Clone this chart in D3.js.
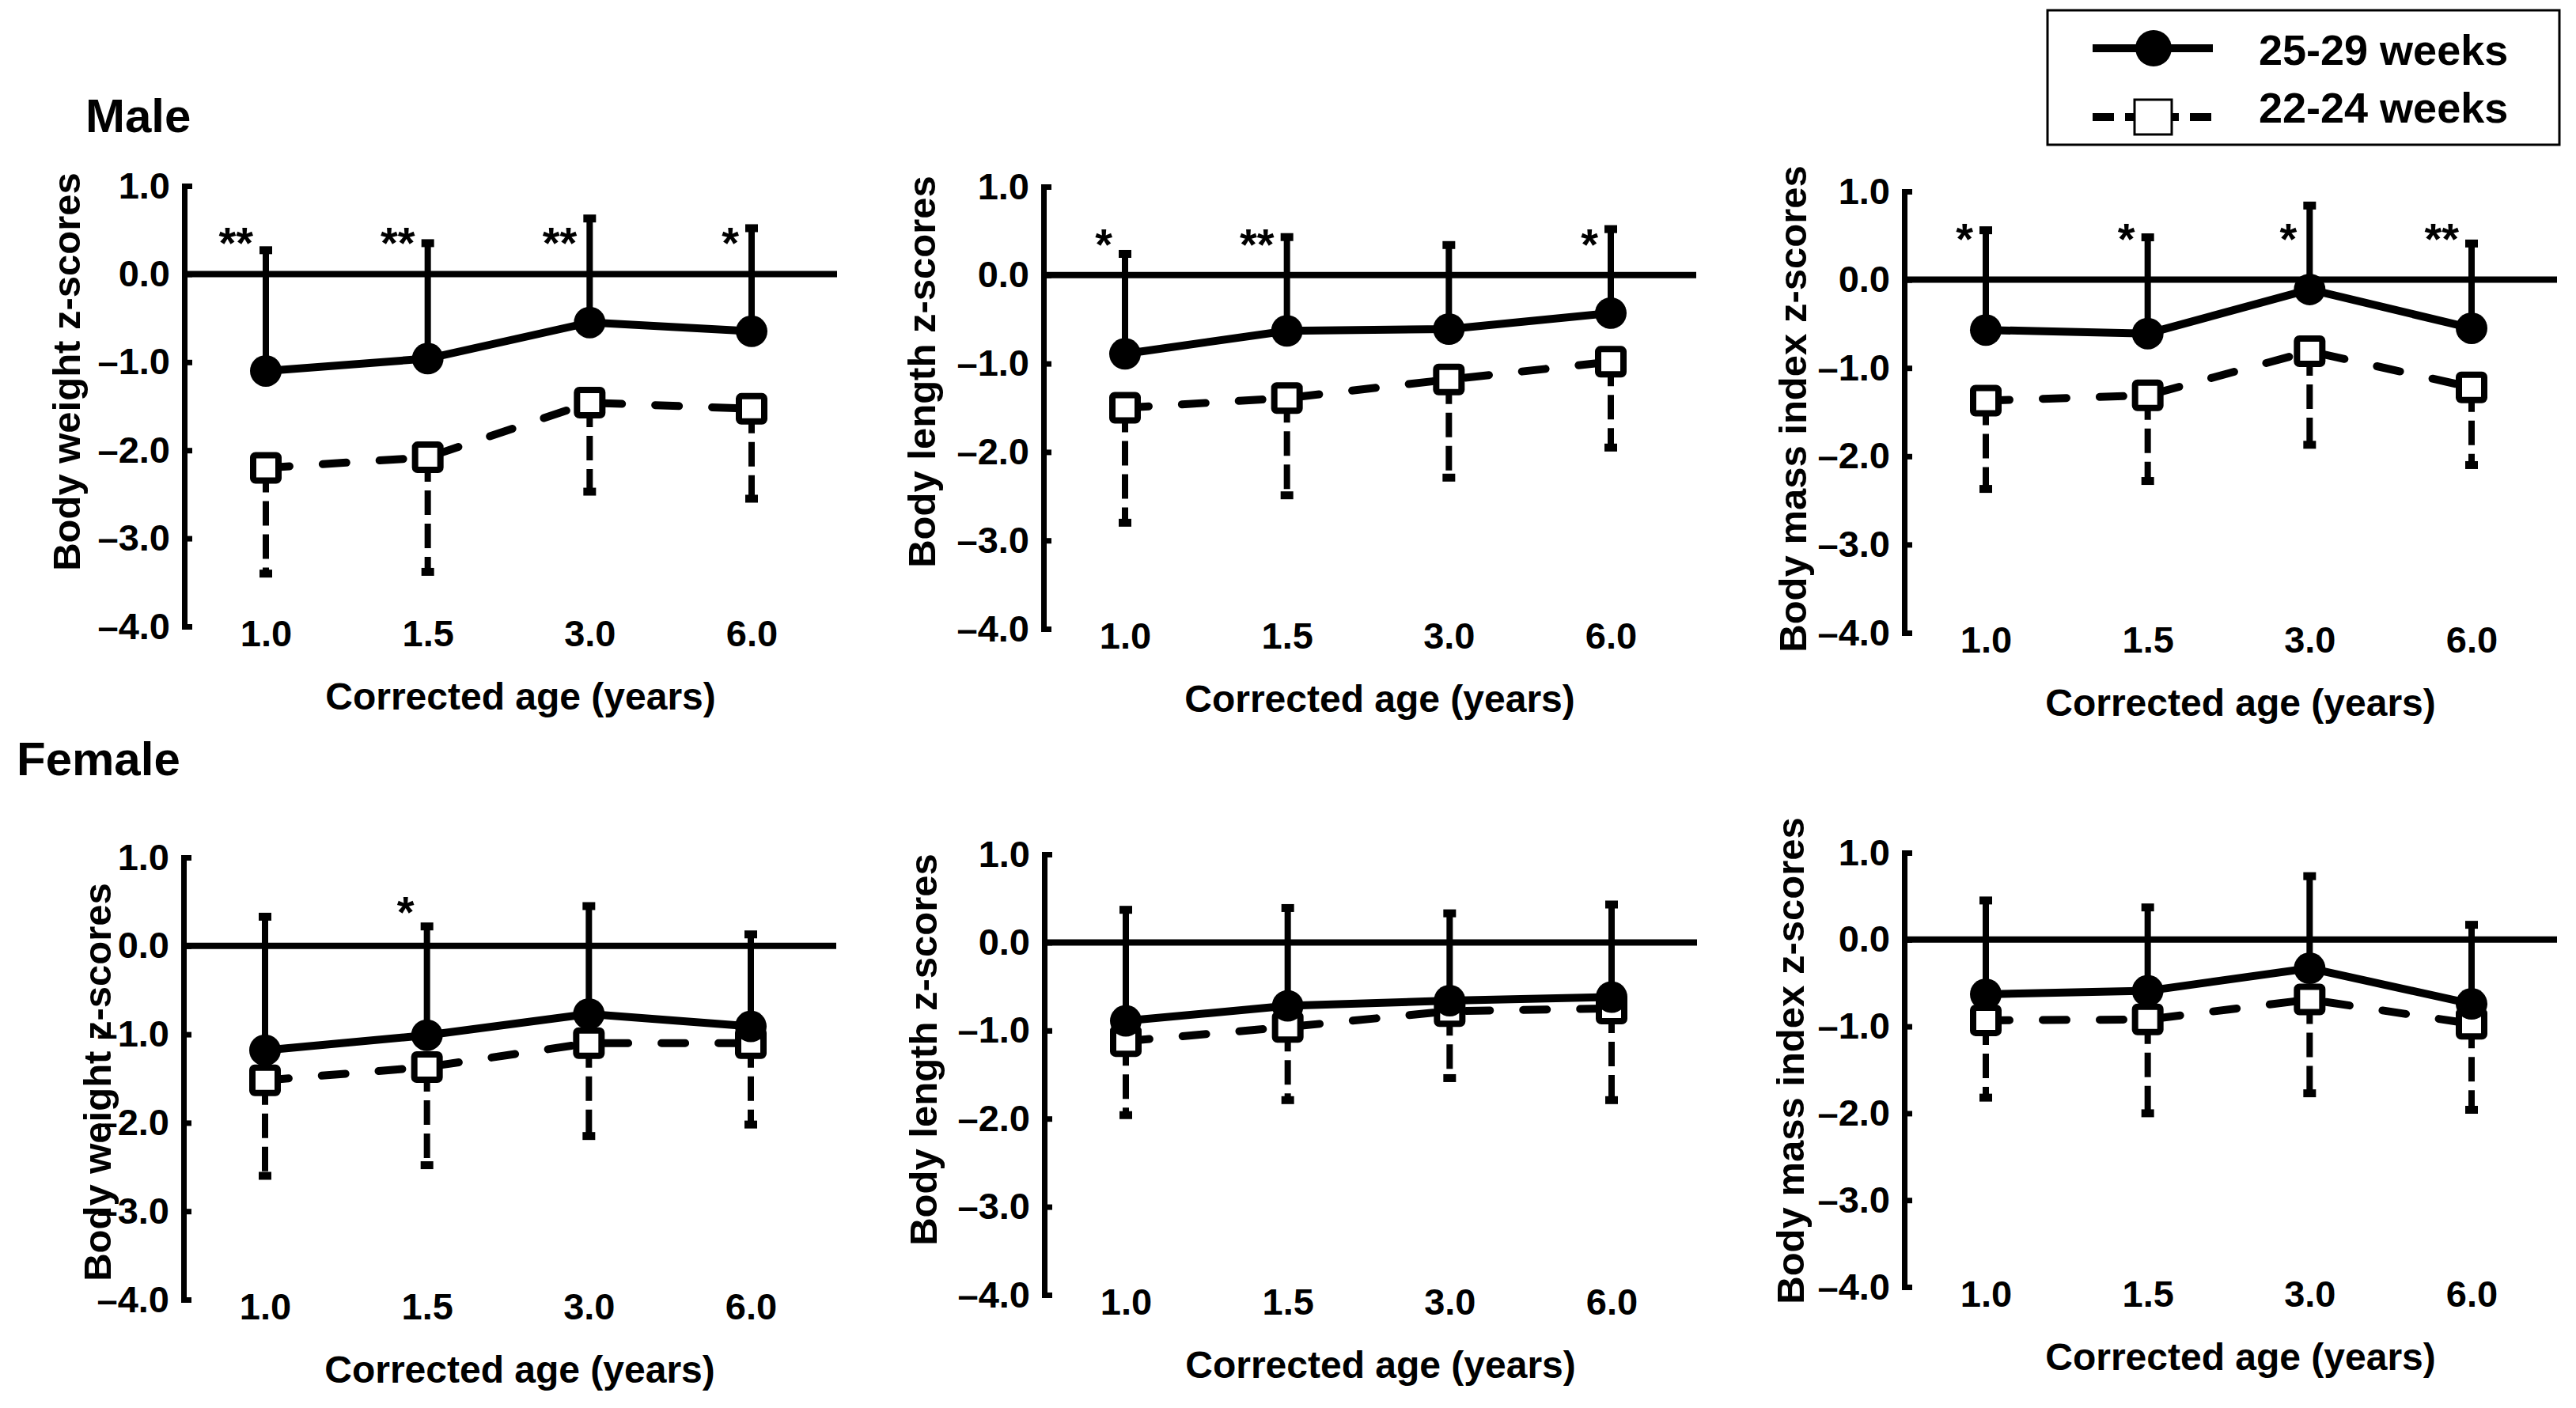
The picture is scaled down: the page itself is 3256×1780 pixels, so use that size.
<!DOCTYPE html>
<html>
<head>
<meta charset="utf-8">
<script src="https://cdn.jsdelivr.net/npm/d3@7"></script>
<style>
    body { margin: 0; background: #fff; }
    text { font-family: "Liberation Sans", Arial, sans-serif; font-weight: bold; fill: #000; }
</style>
</head>
<body>
<svg id="chart" width="3256" height="1780"></svg>
<script>
// Corrected age groups (x categories) and y ticks
const ages = ["1.0", "1.5", "3.0", "6.0"];
const yTickValues = [1, 0, -1, -2, -3, -4];
const seriesNames = ["25-29 weeks", "22-24 weeks"];
const measureTitles = ["Body weight z-scores", "Body length z-scores", "Body mass index z-scores"];
const sexLabels = ["Male", "Female"];

// 25-29 weeks: mean and top of SD bar, 22-24 weeks: mean and bottom of SD bar
const maleWeight2529 = [-1.10, -0.96, -0.55, -0.65];
const maleWeight2529Top = [0.27, 0.35, 0.63, 0.52];
const maleWeight2224 = [-2.20, -2.08, -1.46, -1.53];
const maleWeight2224Bottom = [-3.40, -3.38, -2.47, -2.55];
const maleWeightStars = ["**", "**", "**", "*"];

const maleLength2529 = [-0.89, -0.63, -0.61, -0.43];
const maleLength2529Top = [0.24, 0.43, 0.34, 0.52];
const maleLength2224 = [-1.50, -1.39, -1.18, -0.98];
const maleLength2224Bottom = [-2.80, -2.49, -2.29, -1.95];
const maleLengthStars = ["*", "**", "", "*"];

const maleBmi2529 = [-0.57, -0.61, -0.11, -0.55];
const maleBmi2529Top = [0.56, 0.48, 0.84, 0.41];
const maleBmi2224 = [-1.37, -1.31, -0.81, -1.22];
const maleBmi2224Bottom = [-2.37, -2.28, -1.87, -2.10];
const maleBmiStars = ["*", "*", "*", "**"];

const femaleWeight2529 = [-1.18, -1.01, -0.77, -0.91];
const femaleWeight2529Top = [0.33, 0.22, 0.45, 0.13];
const femaleWeight2224 = [-1.52, -1.37, -1.10, -1.10];
const femaleWeight2224Bottom = [-2.60, -2.48, -2.15, -2.02];
const femaleWeightStars = ["", "*", "", ""];

const femaleLength2529 = [-0.89, -0.72, -0.66, -0.62];
const femaleLength2529Top = [0.37, 0.39, 0.33, 0.43];
const femaleLength2224 = [-1.12, -0.96, -0.78, -0.75];
const femaleLength2224Bottom = [-1.96, -1.79, -1.54, -1.79];
const femaleLengthStars = ["", "", "", ""];

const femaleBmi2529 = [-0.63, -0.59, -0.33, -0.74];
const femaleBmi2529Top = [0.45, 0.37, 0.73, 0.17];
const femaleBmi2224 = [-0.93, -0.92, -0.69, -0.97];
const femaleBmi2224Bottom = [-1.82, -2.00, -1.77, -1.96];
const femaleBmiStars = ["", "", "", ""];

const panels = [
    { title: measureTitles[0], a: maleWeight2529, aTop: maleWeight2529Top, b: maleWeight2224, bBot: maleWeight2224Bottom, stars: maleWeightStars },
    { title: measureTitles[1], a: maleLength2529, aTop: maleLength2529Top, b: maleLength2224, bBot: maleLength2224Bottom, stars: maleLengthStars },
    { title: measureTitles[2], a: maleBmi2529, aTop: maleBmi2529Top, b: maleBmi2224, bBot: maleBmi2224Bottom, stars: maleBmiStars },
    { title: measureTitles[0], a: femaleWeight2529, aTop: femaleWeight2529Top, b: femaleWeight2224, bBot: femaleWeight2224Bottom, stars: femaleWeightStars },
    { title: measureTitles[1], a: femaleLength2529, aTop: femaleLength2529Top, b: femaleLength2224, bBot: femaleLength2224Bottom, stars: femaleLengthStars },
    { title: measureTitles[2], a: femaleBmi2529, aTop: femaleBmi2529Top, b: femaleBmi2224, bBot: femaleBmi2224Bottom, stars: femaleBmiStars }
];

// where each panel sits on the page
const layout = [
    { x: 233, y0: 235, y1: 792, tx: -149, ty: 470, star: 0.47 },
    { x: 1319, y0: 236, y1: 795, tx: -154, ty: 470, star: 0.46 },
    { x: 2407, y0: 242, y1: 800, tx: -141, ty: 517, star: 0.58 },
    { x: 232, y0: 1084, y1: 1643, tx: -109, ty: 1368, star: 0.5 },
    { x: 1320, y0: 1080, y1: 1637, tx: -153, ty: 1327, star: 0.5 },
    { x: 2407, y0: 1078, y1: 1627, tx: -144, ty: 1341, star: 0.5 }
];

const svg = d3.select("#chart");
const fmt = d => (d < 0 ? "\u2013" + d3.format(".1f")(-d) : d3.format(".1f")(d));

panels.forEach((p, k) => {
    const L = layout[k];
    const g = svg.append("g").attr("transform", `translate(${L.x},0)`);

    const x = d3.scalePoint().domain(ages).range([103, 717]);
    const y = d3.scaleLinear().domain([1, -4]).range([L.y0, L.y1]);

    // y axis, ticks point inwards
    const yAxis = g.append("g")
        .call(d3.axisLeft(y).tickValues(yTickValues).tickSize(-10).tickPadding(18).tickFormat(fmt));
    yAxis.select(".domain").attr("stroke", "#000").attr("stroke-width", 7);
    yAxis.selectAll(".tick line").attr("stroke", "#000").attr("stroke-width", 7);
    yAxis.selectAll(".tick text").style("font-size", "47px");

    // x labels only, no axis line
    const xAxis = g.append("g")
        .attr("transform", `translate(0,${L.y1})`)
        .call(d3.axisBottom(x).tickSize(0));
    xAxis.select(".domain").remove();
    xAxis.selectAll(".tick text").attr("y", 25).attr("dy", 0).style("font-size", "47px");

    // zero reference line
    g.append("line")
        .attr("x1", 0).attr("x2", 825)
        .attr("y1", y(0)).attr("y2", y(0))
        .attr("stroke", "#000").attr("stroke-width", 8);

    // axis titles
    g.append("text")
        .attr("x", 425).attr("y", L.y1 + 105)
        .attr("text-anchor", "middle")
        .style("font-size", "48px")
        .text("Corrected age (years)");

    g.append("text")
        .attr("transform", `translate(${L.tx},${L.ty}) rotate(-90)`)
        .attr("text-anchor", "middle")
        .attr("dy", "0.35em")
        .style("font-size", "49px")
        .text(p.title);

    const line = d3.line().x((d, i) => x(ages[i])).y(d => y(d));

    // 22-24 weeks, dashed
    g.append("path")
        .attr("d", line(p.b))
        .attr("fill", "none").attr("stroke", "#000")
        .attr("stroke-width", 10).attr("stroke-linecap", "round")
        .attr("stroke-dasharray", "30,42");

    ages.forEach((a, i) => {
        g.append("line")
            .attr("x1", x(a)).attr("x2", x(a))
            .attr("y1", y(p.b[i])).attr("y2", y(p.bBot[i]))
            .attr("stroke", "#000").attr("stroke-width", 8)
            .attr("stroke-dasharray", "31,11");
        g.append("rect")
            .attr("x", x(a) - 8).attr("y", y(p.bBot[i]) - 5)
            .attr("width", 16).attr("height", 10)
            .attr("fill", "#000");
    });

    g.selectAll(".sq")
        .data(p.b)
        .enter()
        .append("rect")
        .attr("x", (d, i) => x(ages[i]) - 16)
        .attr("y", d => y(d) - 16)
        .attr("width", 32).attr("height", 32).attr("rx", 3)
        .attr("fill", "#fff").attr("stroke", "#000").attr("stroke-width", 8);

    // 25-29 weeks, solid
    ages.forEach((a, i) => {
        g.append("line")
            .attr("x1", x(a)).attr("x2", x(a))
            .attr("y1", y(p.a[i])).attr("y2", y(p.aTop[i]))
            .attr("stroke", "#000").attr("stroke-width", 8);
        g.append("rect")
            .attr("x", x(a) - 8).attr("y", y(p.aTop[i]) - 5)
            .attr("width", 16).attr("height", 10)
            .attr("fill", "#000");
    });

    g.append("path")
        .attr("d", line(p.a))
        .attr("fill", "none").attr("stroke", "#000")
        .attr("stroke-width", 10);

    g.selectAll(".dot")
        .data(p.a)
        .enter()
        .append("circle")
        .attr("cx", (d, i) => x(ages[i]))
        .attr("cy", d => y(d))
        .attr("r", 20)
        .attr("fill", "#000");

    // significance marks
    g.selectAll(".star")
        .data(p.stars)
        .enter()
        .append("text")
        .attr("x", (d, i) => x(ages[i]) - 16)
        .attr("y", y(L.star) + 32)
        .attr("text-anchor", "end")
        .style("font-size", "56px")
        .text(d => d);
});

// sex labels
svg.append("text").attr("x", 108).attr("y", 167).style("font-size", "60px").text(sexLabels[0]);
svg.append("text").attr("x", 21).attr("y", 980).style("font-size", "60px").text(sexLabels[1]);

// legend
const lg = svg.append("g");
lg.append("rect")
    .attr("x", 2588).attr("y", 13).attr("width", 647).attr("height", 170)
    .attr("fill", "#fff").attr("stroke", "#000").attr("stroke-width", 3);

lg.append("line")
    .attr("x1", 2645).attr("x2", 2797).attr("y1", 61).attr("y2", 61)
    .attr("stroke", "#000").attr("stroke-width", 10);
lg.append("circle").attr("cx", 2722).attr("cy", 61).attr("r", 23).attr("fill", "#000");
lg.append("text").attr("x", 2855).attr("y", 82).style("font-size", "54px").text(seriesNames[0]);

lg.append("line")
    .attr("x1", 2645).attr("x2", 2797).attr("y1", 148).attr("y2", 148)
    .attr("stroke", "#000").attr("stroke-width", 10)
    .attr("stroke-dasharray", "27,14");
lg.append("rect")
    .attr("x", 2698).attr("y", 126).attr("width", 47).attr("height", 44)
    .attr("fill", "#fff").attr("stroke", "#000").attr("stroke-width", 3);
lg.append("text").attr("x", 2855).attr("y", 155).style("font-size", "54px").text(seriesNames[1]);
</script>
</body>
</html>
